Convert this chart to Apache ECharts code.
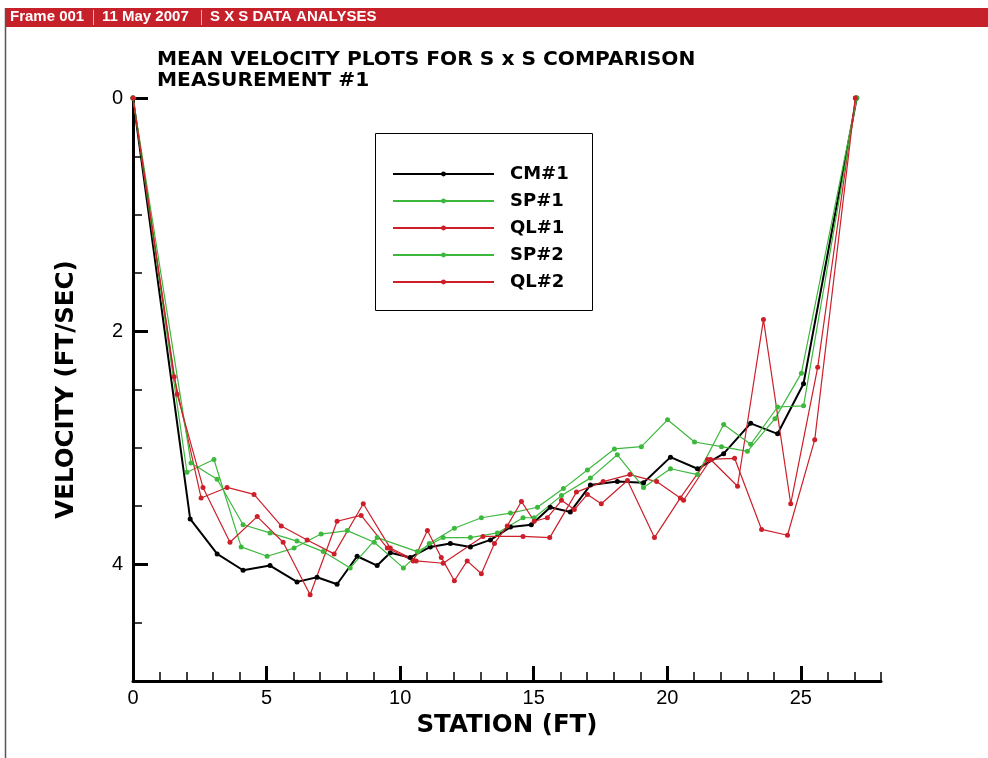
<!DOCTYPE html>
<html>
<head>
<meta charset="utf-8">
<script src="https://cdn.jsdelivr.net/npm/echarts@6/dist/echarts.min.js"></script>
<style>
  html, body { margin: 0; padding: 0; background: #fff; }
  #chart { width: 988px; height: 758px; }
</style>
</head>
<body>
<div id="chart"></div>
<script>
// station (ft) and mean velocity (ft/sec) for each run
const stationCM1 = [0, 2.14, 3.15, 4.12, 5.13, 6.14, 6.89, 7.64, 8.39, 9.14, 9.63, 10.38, 11.13, 11.88, 12.63, 13.38, 14.13, 14.91, 15.62, 16.37, 17.12, 18.13, 19.11, 20.12, 21.13, 22.11, 23.12, 24.13, 25.10, 27.09];
const velCM1 = [0, 3.61, 3.91, 4.05, 4.01, 4.15, 4.11, 4.17, 3.93, 4.01, 3.90, 3.94, 3.85, 3.82, 3.85, 3.79, 3.68, 3.66, 3.51, 3.55, 3.32, 3.29, 3.30, 3.08, 3.18, 3.05, 2.79, 2.88, 2.45, 0];

const stationSP1 = [0, 2.02, 3.03, 4.05, 5.02, 6.03, 7.04, 8.02, 9.03, 10.12, 11.09, 12.03, 13.04, 14.13, 15.14, 16.11, 17.01, 18.02, 19.03, 20.01, 21.02, 22.03, 23.0, 24.03, 25.02, 27.09];
const velSP1 = [0, 3.21, 3.10, 3.85, 3.93, 3.86, 3.74, 3.71, 3.81, 4.03, 3.82, 3.69, 3.60, 3.56, 3.51, 3.35, 3.19, 3.01, 2.99, 2.76, 2.95, 2.99, 3.03, 2.75, 2.36, 0];

const stationQL1 = [0, 1.54, 2.55, 3.52, 4.53, 5.55, 6.52, 7.53, 8.62, 9.63, 10.6, 11.61, 13.1, 14.6, 15.6, 16.6, 17.6, 18.6, 19.6, 20.61, 21.62, 22.63, 23.60, 24.62, 25.63, 27.04];
const velQL1 = [0, 2.39, 3.43, 3.34, 3.40, 3.67, 3.79, 3.91, 3.48, 3.86, 3.97, 3.99, 3.76, 3.76, 3.77, 3.38, 3.29, 3.23, 3.29, 3.45, 3.10, 3.33, 1.90, 3.48, 2.31, 0];

const stationSP2 = [0, 2.17, 3.15, 4.12, 5.13, 6.14, 7.12, 8.13, 9.14, 10.64, 11.61, 12.63, 13.64, 14.6, 15.02, 16.04, 17.12, 18.13, 19.11, 20.12, 21.13, 22.11, 23.12, 24.13, 25.10, 27.09];
const velSP2 = [0, 3.13, 3.27, 3.66, 3.73, 3.80, 3.89, 4.03, 3.77, 3.89, 3.77, 3.77, 3.73, 3.60, 3.60, 3.41, 3.26, 3.06, 3.34, 3.18, 3.23, 2.80, 2.97, 2.65, 2.64, 0];

const stationQL2 = [0, 1.65, 2.62, 3.63, 4.65, 5.62, 6.63, 7.64, 8.54, 9.52, 10.49, 11.02, 11.54, 12.03, 12.51, 13.04, 13.53, 14.01, 14.54, 15.02, 15.51, 16.04, 16.52, 17.01, 17.53, 18.51, 19.52, 20.49, 21.51, 22.52, 23.53, 24.50, 25.52, 27.04];
const velQL2 = [0, 2.54, 3.34, 3.81, 3.59, 3.81, 4.26, 3.63, 3.58, 3.86, 3.97, 3.71, 3.94, 4.14, 3.97, 4.08, 3.82, 3.67, 3.46, 3.63, 3.60, 3.45, 3.53, 3.40, 3.48, 3.28, 3.77, 3.43, 3.10, 3.09, 3.70, 3.75, 2.93, 0];

const seriesNames = ["CM#1", "SP#1", "QL#1", "SP#2", "QL#2"];
const xMajor = [0, 5, 10, 15, 20, 25];
const yMajor = [0, 2, 4];

const FONT = "'Liberation Sans', Arial, sans-serif";
const BOLD_FONT = "'DejaVu Sans', sans-serif";
const GREEN = "#3db83d";
const RED = "#cc1f2a";

function pairs(xs, ys) {
  return xs.map((x, i) => [x, ys[i]]);
}

function lineSeries(name, xs, ys, color, width) {
  return {
    name: name,
    type: "line",
    data: pairs(xs, ys),
    symbol: "circle",
    symbolSize: 5,
    showSymbol: true,
    lineStyle: { color: color, width: width },
    itemStyle: { color: color },
    emphasis: { disabled: true },
  };
}

const chart = echarts.init(document.getElementById("chart"));

const option = {
  animation: false,
  backgroundColor: "#fff",
  textStyle: { fontFamily: FONT },
  title: {
    text: "MEAN VELOCITY PLOTS FOR S x S COMPARISON\nMEASUREMENT #1",
    left: 157,
    top: 49,
    padding: 0,
    textStyle: {
      fontFamily: BOLD_FONT,
      fontSize: 20.2,
      fontWeight: "bold",
      color: "#000",
      lineHeight: 21,
    },
  },
  legend: {
    data: seriesNames,
    orient: "vertical",
    left: 392,
    top: 165,
    padding: 0,
    itemWidth: 101,
    itemHeight: 6,
    itemGap: 9,
    selectedMode: false,
    textStyle: {
      fontFamily: BOLD_FONT,
      fontSize: 18,
      fontWeight: "bold",
      color: "#000",
      lineHeight: 18,
      padding: [0, 0, 0, 11],
    },
  },
  grid: { left: 133, right: 107, top: 98, bottom: 77 },
  xAxis: [
    {
      type: "value",
      min: 0,
      max: 28,
      position: "bottom",
      name: "STATION (FT)",
      nameLocation: "middle",
      nameGap: 26,
      nameTextStyle: { fontFamily: BOLD_FONT, fontSize: 24.5, fontWeight: "bold", color: "#000" },
      axisLine: { show: true, onZero: false, lineStyle: { color: "#000", width: 3 } },
      axisTick: { inside: true, length: 15, customValues: xMajor, lineStyle: { color: "#000", width: 3 } },
      axisLabel: { customValues: xMajor, color: "#000", fontSize: 20, margin: 7, fontFamily: FONT },
      splitLine: { show: false },
    },
    {
      type: "value",
      min: 0,
      max: 28,
      interval: 1,
      position: "bottom",
      axisLine: { show: false, onZero: false },
      axisTick: { inside: true, length: 9, lineStyle: { color: "#000", width: 1.5 } },
      axisLabel: { show: false },
      splitLine: { show: false },
    },
  ],
  yAxis: [
    {
      type: "value",
      inverse: true,
      min: 0,
      max: 5,
      position: "left",
      name: "VELOCITY (FT/SEC)",
      nameLocation: "middle",
      nameGap: 54,
      nameTextStyle: { fontFamily: BOLD_FONT, fontSize: 24.5, fontWeight: "bold", color: "#000" },
      axisLine: { show: true, onZero: false, lineStyle: { color: "#000", width: 3 } },
      axisTick: { inside: true, length: 15, customValues: yMajor, lineStyle: { color: "#000", width: 3 } },
      axisLabel: { customValues: yMajor, color: "#000", fontSize: 20, margin: 10, fontFamily: FONT },
      splitLine: { show: false },
    },
    {
      type: "value",
      inverse: true,
      min: 0,
      max: 5,
      interval: 0.5,
      position: "left",
      axisLine: { show: false, onZero: false },
      axisTick: { inside: true, length: 9, lineStyle: { color: "#000", width: 1.5 } },
      axisLabel: { show: false },
      splitLine: { show: false },
    },
  ],
  series: [
    lineSeries("CM#1", stationCM1, velCM1, "#000", 2),
    lineSeries("SP#1", stationSP1, velSP1, GREEN, 1.2),
    lineSeries("QL#1", stationQL1, velQL1, RED, 1.2),
    lineSeries("SP#2", stationSP2, velSP2, GREEN, 1.2),
    lineSeries("QL#2", stationQL2, velQL2, RED, 1.2),
  ],
  graphic: [
    // frame header bar
    { type: "rect", shape: { x: 5, y: 8, width: 983, height: 19 }, style: { fill: "#c6202a" }, silent: true },
    { type: "line", shape: { x1: 5.5, y1: 8, x2: 5.5, y2: 758 }, style: { stroke: "#555", lineWidth: 1.5 }, silent: true },
    { type: "text", left: 10, top: 9, style: { text: "Frame 001", fill: "#fff", font: "bold 15px " + FONT } },
    { type: "line", shape: { x1: 93.5, y1: 10, x2: 93.5, y2: 25 }, style: { stroke: "#f0b0b0", lineWidth: 1 }, silent: true },
    { type: "text", left: 102, top: 9, style: { text: "11 May 2007", fill: "#fff", font: "bold 15px " + FONT } },
    { type: "line", shape: { x1: 201.5, y1: 10, x2: 201.5, y2: 25 }, style: { stroke: "#f0b0b0", lineWidth: 1 }, silent: true },
    { type: "text", left: 210, top: 9, style: { text: "S X S DATA ANALYSES", fill: "#fff", font: "bold 15px " + FONT } },
    // legend box
    { type: "rect", shape: { x: 375.5, y: 133.5, width: 217, height: 177 }, style: { fill: "none", stroke: "#000", lineWidth: 1 }, silent: true, z: 10 },
  ],
};

chart.setOption(option);
</script>
</body>
</html>
